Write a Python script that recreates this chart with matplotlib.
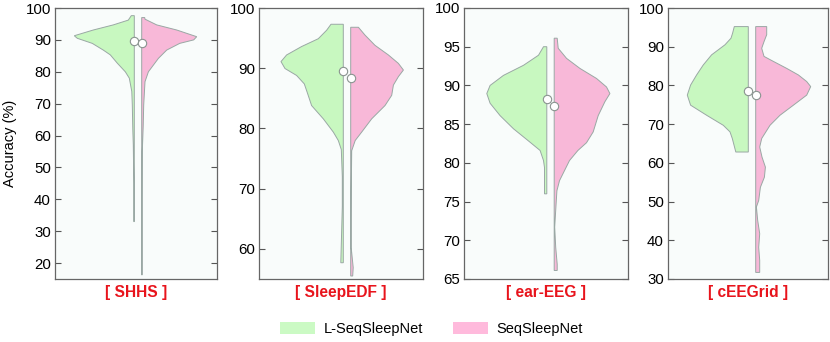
import numpy as np
import matplotlib
matplotlib.use("Agg")
import matplotlib.pyplot as plt
from matplotlib.patches import Patch

plt.rcParams['font.family'] = ['Liberation Sans', 'DejaVu Sans']

datasets = ["[ SHHS ]", "[ SleepEDF ]", "[ ear-EEG ]", "[ cEEGrid ]"]
ylims = [(15, 100), (55, 100), (65, 100), (30, 100)]
yticks = [np.arange(20, 101, 10), np.arange(60, 101, 10),
          np.arange(65, 101, 5), np.arange(30, 101, 10)]

# violin outlines: accuracy level and half width (px)
green_y = [
    [97.6, 96.2, 94.7, 93.1, 91.3, 90.5, 88.9, 86.8, 85.3, 82.7, 80.0, 78.0, 73.8, 69.6, 62, 57, 45, 33],
    [97.3, 96.3, 94.9, 93.6, 92.2, 91.1, 89.95, 88.8, 87.4, 85.8, 83.8, 81.6, 79.4, 78.0, 76.5, 72, 67, 62, 57.7],
    [95.0, 93.9, 92.6, 91.3, 90.0, 88.95, 87.7, 86.1, 84.4, 82.8, 81.6, 80.3, 79.4, 76.0],
    [95.2, 93.5, 92.2, 90.5, 87.9, 85.3, 82.7, 80.1, 77.5, 74.9, 72.3, 69.7, 68.0, 66.3, 62.8],
]
green_w = [
    [3, 6, 21, 41, 60, 57, 42, 31, 24, 17, 9, 5, 2.5, 2, 1.5, 1, 0.5, 0.5],
    [12.3, 16.7, 25, 41.7, 56.7, 62.3, 58.3, 46.7, 39, 35.7, 31.7, 20, 10, 5, 2, 1, 1, 1.8, 2.5],
    [3.3, 8.3, 23.3, 43.3, 56.7, 60, 56.7, 46.7, 33.3, 18, 6.7, 3.3, 2.3, 2.3],
    [14, 15.7, 17.3, 23.3, 36.7, 45, 51.7, 57.7, 61, 57.7, 41.7, 25, 18.3, 16, 12.5],
]
pink_y = [
    [97.0, 96.5, 94.7, 93.1, 91.0, 90.0, 88.9, 86.8, 84.2, 80.0, 76.9, 69.6, 63, 55, 40, 16.3],
    [96.8, 95.5, 93.8, 92.2, 90.8, 89.7, 88.6, 87.2, 85.5, 83.8, 81.6, 79.4, 78.0, 76.3, 70, 65, 60.2, 56.9, 55.5],
    [96.1, 94.8, 93.5, 92.2, 90.9, 89.8, 88.95, 87.9, 86.1, 84.0, 82.6, 81.6, 80.3, 79.0, 77.7, 76.4, 74.3, 71.7, 69.1, 66.9, 66.1],
    [95.2, 93.1, 91.3, 89.6, 87.5, 86.2, 84.4, 82.7, 81.0, 79.7, 77.5, 74.9, 72.3, 69.7, 66.3, 64.1, 61.5,
     58.9, 56.3, 53.7, 50.3, 48.6, 45.1, 41.7, 38.2, 34.8, 31.7],
]
pink_w = [
    [3, 3.3, 15, 35, 55, 52, 38, 25, 16.7, 6.7, 3.3, 2, 1.5, 0.6, 0.5, 0.5],
    [7.7, 14.3, 24.3, 37.7, 47.7, 52.7, 47.7, 42.7, 41, 34.3, 21, 11, 4.5, 1, 0.6, 0.5, 0.5, 2.5, 2],
    [3, 4, 12.3, 25.7, 42.3, 52.3, 55.7, 50.7, 44, 39, 32.3, 23.7, 15.3, 10.3, 5.3, 2.7, 1.7, 0.5, 1.5, 3, 3],
    [11, 11, 8.3, 6, 8.3, 17.7, 31, 42.7, 51, 55, 51, 37.7, 24.3, 14.3, 6, 4, 6.3,
     9.7, 8.7, 4.7, 3, 0.7, 2, 4, 3, 4, 4],
]
green_median = [89.8, 89.55, 88.3, 78.6]
pink_median = [89.1, 88.4, 87.3, 77.5]

green_col = "#c8f8c0"
pink_col = "#f8b8d8"
edge_col = "#9aa8a4"

W, H = 830, 342
fig = plt.figure(figsize=(W / 100, H / 100), dpi=100)

# axes boxes in pixels: left, right
boxes = [(55, 217), (259, 423), (464, 628), (668, 828)]
centers = [2, 6, 4.5, 4]
gap = 3.7
top, bottom = 8, 279

for i in range(4):
    l, r = boxes[i]
    ax = fig.add_axes([l / W, (H - bottom) / H, (r - l) / W, (bottom - top) / H])
    ax.set_facecolor("#f9fcfb")
    half = (r - l) / 2
    ax.set_xlim(-half, half)
    ax.set_ylim(*ylims[i])

    ge = centers[i] - gap
    pe = centers[i] + gap
    gy = np.array(green_y[i]); gw = np.array(green_w[i])
    py = np.array(pink_y[i]); pw = np.array(pink_w[i])

    xs = np.concatenate([ge - gw, [ge, ge]])
    ys = np.concatenate([gy, [gy[-1], gy[0]]])
    ax.fill(xs, ys, facecolor=green_col, edgecolor=edge_col, lw=0.7, zorder=2)
    xs = np.concatenate([pe + pw, [pe, pe]])
    ys = np.concatenate([py, [py[-1], py[0]]])
    ax.fill(xs, ys, facecolor=pink_col, edgecolor=edge_col, lw=0.7, zorder=2)

    ax.plot([ge], [green_median[i]], "o", ms=6, mfc="white", mec="#8a9490", mew=0.8, zorder=3)
    ax.plot([pe], [pink_median[i]], "o", ms=6, mfc="white", mec="#8a9490", mew=0.8, zorder=3)

    ax.set_xticks([])
    ax.set_yticks(yticks[i])
    ax.tick_params(axis="y", direction="in", length=4, width=0.8, color="#555555",
                   labelsize=10.8, right=True, pad=3)
    for s in ax.spines.values():
        s.set_color("#666666")
        s.set_linewidth(0.9)
    ax.set_xlabel(datasets[i], color="#e8141c", fontweight="bold", fontsize=11.2, labelpad=4)
    if i == 0:
        ax.set_ylabel("Accuracy (%)", fontsize=10.5, labelpad=6)

handles = [Patch(facecolor="#cbfac4", edgecolor="none", label="L-SeqSleepNet"),
           Patch(facecolor="#ffbadc", edgecolor="none", label="SeqSleepNet")]
fig.legend(handles=handles, loc="center", bbox_to_anchor=(0.52, 0.038), ncol=2,
           frameon=False, fontsize=10.5, handlelength=2.4, handleheight=0.8,
           handletextpad=0.6, columnspacing=2.0)

fig.savefig("out.png", dpi=100)
